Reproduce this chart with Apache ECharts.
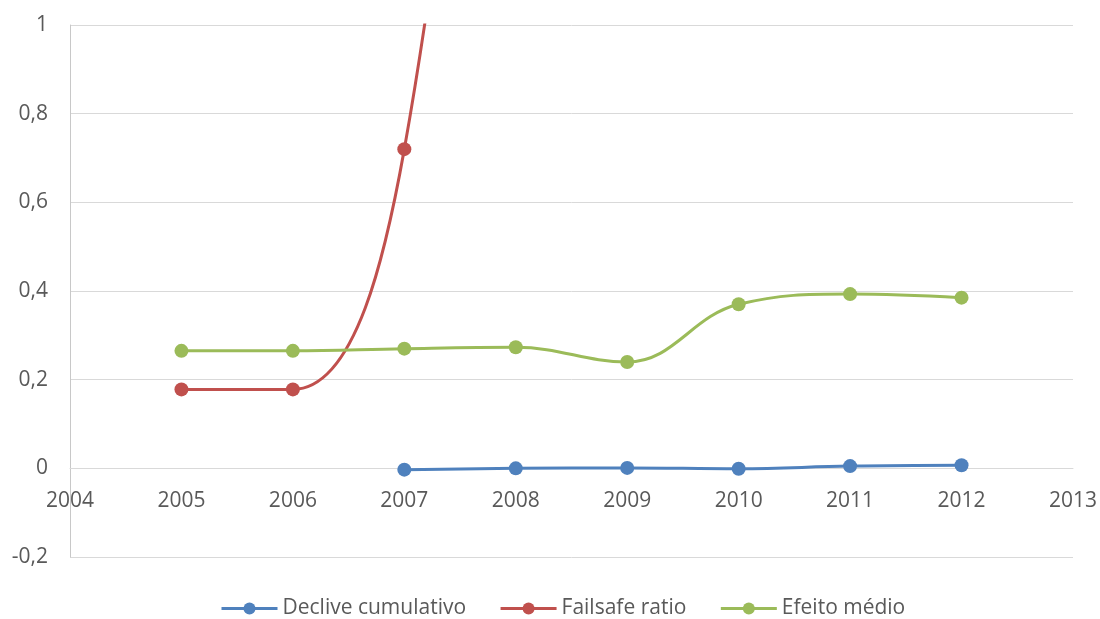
<!DOCTYPE html>
<html><head><meta charset="utf-8">
<script src="https://cdn.jsdelivr.net/npm/echarts@6/dist/echarts.min.js"></script>
<style>html,body{margin:0;padding:0;background:#fff}#c{width:1100px;height:619px}</style>
</head><body><div id="c"></div>
<script>
const seriesNames = ['Declive cumulativo', 'Failsafe ratio', 'Efeito médio'];
const decliveYears = [2007, 2008, 2009, 2010, 2011, 2012];
const decliveValues = [-0.003, 0.0, 0.001, -0.001, 0.005, 0.007];
const failsafeYears = [2005, 2006, 2007, 2008];
const failsafeValues = [0.178, 0.178, 0.72, 3.0];
const efeitoYears = [2005, 2006, 2007, 2008, 2009, 2010, 2011, 2012];
const efeitoValues = [0.265, 0.265, 0.27, 0.273, 0.24, 0.37, 0.393, 0.385];

const pair = (xs, ys) => xs.map((x, i) => [x, ys[i]]);
const colors = ['#4f81bd', '#c0504d', '#9bbb59'];
const font = '"Open Sans", "Liberation Sans", sans-serif';

const gridTop = 25, gridBottom = 62, H = 619;
const yMin = -0.2, yMax = 1;
const gridH = H - gridTop - gridBottom;
const zeroOffset = -gridH * (0 - yMin) / (yMax - yMin);

const chart = echarts.init(document.getElementById('c'));
const mk = (name, data, color, smooth) => ({
  name, type: 'line', data, smooth, clip: true,
  symbol: 'circle', symbolSize: 14,
  lineStyle: { color, width: 3 },
  itemStyle: { color },
  emphasis: { disabled: true }
});
chart.setOption({
  animation: false,
  color: colors,
  grid: { left: 70, right: 25, top: gridTop, bottom: gridBottom, containLabel: false },
  xAxis: {
    type: 'value', min: 2004, max: 2013, interval: 1,
    offset: zeroOffset,
    axisLine: { onZero: false, lineStyle: { color: '#d9d9d9', width: 1 } },
    axisTick: { show: false },
    splitLine: { show: false },
    axisLabel: { color: '#595959', fontSize: 21, fontFamily: font, margin: 22, formatter: v => String(v) }
  },
  yAxis: {
    type: 'value', min: yMin, max: yMax, interval: 0.2,
    axisLine: { show: true, onZero: false, lineStyle: { color: '#c8c8c8', width: 1 } },
    axisTick: { show: false },
    splitLine: { lineStyle: { color: '#d9d9d9', width: 1 } },
    axisLabel: { color: '#595959', fontSize: 21, fontFamily: font, margin: 22,
      formatter: v => String(Number(v.toFixed(1))).replace('.', ',') }
  },
  legend: {
    top: 593, left: 215, itemWidth: 56, itemHeight: 15, itemGap: 33,
    lineStyle: { width: 3 },
    textStyle: { color: '#595959', fontSize: 21, fontFamily: font, padding: [0, 0, 0, 0] },
    data: seriesNames
  },
  series: [
    mk(seriesNames[0], pair(decliveYears, decliveValues), colors[0], 0.4),
    mk(seriesNames[1], pair(failsafeYears, failsafeValues), colors[1], 0.4),
    mk(seriesNames[2], pair(efeitoYears, efeitoValues), colors[2], 0.4)
  ]
});
</script></body></html>
